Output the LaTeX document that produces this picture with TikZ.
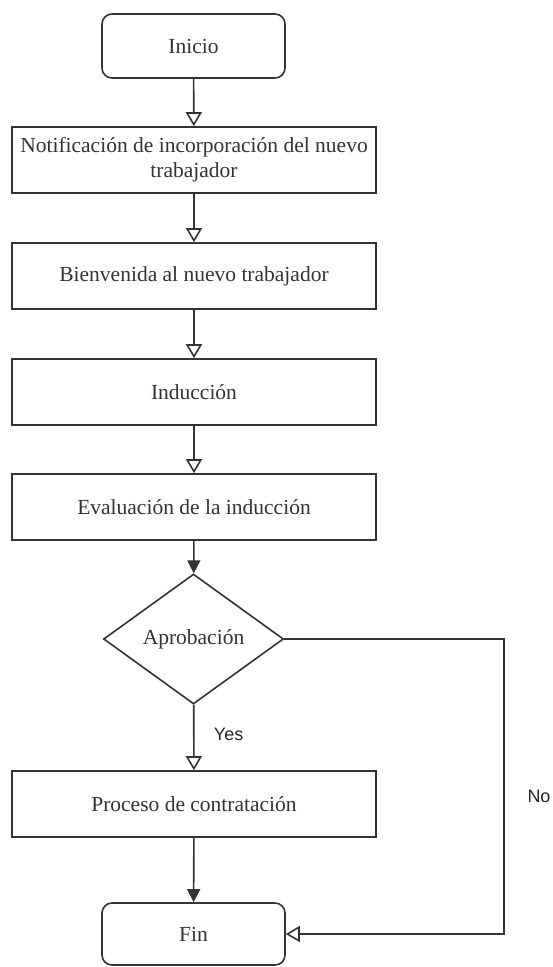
\documentclass[tikz,border=0pt]{standalone}
\usepackage{fontspec}
\setmainfont{Liberation Serif}
\newfontfamily\labelfont{Liberation Sans}
\usetikzlibrary{shapes.geometric,arrows.meta}
\begin{document}
\begin{tikzpicture}[x=1pt,y=-1pt,
  every node/.style={font=\fontsize{21.5}{25}\selectfont, text=black!80},
  procbox/.style={draw=black!80, line width=1.6pt, rectangle, minimum width=364pt, minimum height=66pt, inner sep=0pt, align=center, fill=white},
  termbox/.style={draw=black!80, line width=1.6pt, rectangle, rounded corners=10pt, minimum width=183pt, minimum height=64pt, inner sep=0pt, fill=white},
  decbox/.style={draw=black!80, line width=1.6pt, diamond, minimum width=180pt, minimum height=130pt, inner sep=0pt, fill=white},
  openarr/.style={draw=black!80, line width=1.6pt, -{Triangle[open,length=14pt,width=16pt]}},
  fullarr/.style={draw=black!80, line width=1.6pt, -{Triangle[length=13pt,width=13pt]}},
  lbl/.style={font=\labelfont\fontsize{18}{20}\selectfont, text=black!85}
]
\useasboundingbox (0,0) rectangle (552,967);
\node[termbox] (ini) at (193.5,46) {Inicio};
\node[procbox] (n1) at (194,160) {Notificación de incorporación del nuevo\\trabajador};
\node[procbox] (n2) at (194,276) {Bienvenida al nuevo trabajador};
\node[procbox] (n3) at (194,392) {Inducción};
\node[procbox] (n4) at (194,507) {Evaluación de la inducción};
\node[decbox] (d) at (193.5,639) {};
\node (dt) at (d.center) {Aprobación};
\node[procbox] (n5) at (194,804) {Proceso de contratación};
\node[termbox, minimum height=62pt] (fin) at (193.5,934) {Fin};
\coordinate (c1) at (504,639);
\draw[openarr] (ini) -- (n1);
\draw[openarr] (n1) -- (n2);
\draw[openarr] (n2) -- (n3);
\draw[openarr] (n3) -- (n4);
\draw[fullarr] (n4) -- (d);
\draw[openarr] (d) -- (n5) node[lbl, pos=0.45, anchor=west, xshift=16pt] (yes) {Yes};
\draw[fullarr] (n5) -- (fin);
\draw[openarr] (d.east) -- (c1) |- (fin.east);
\node[lbl] (no) at (539,796) {No};
\end{tikzpicture}
\end{document}
